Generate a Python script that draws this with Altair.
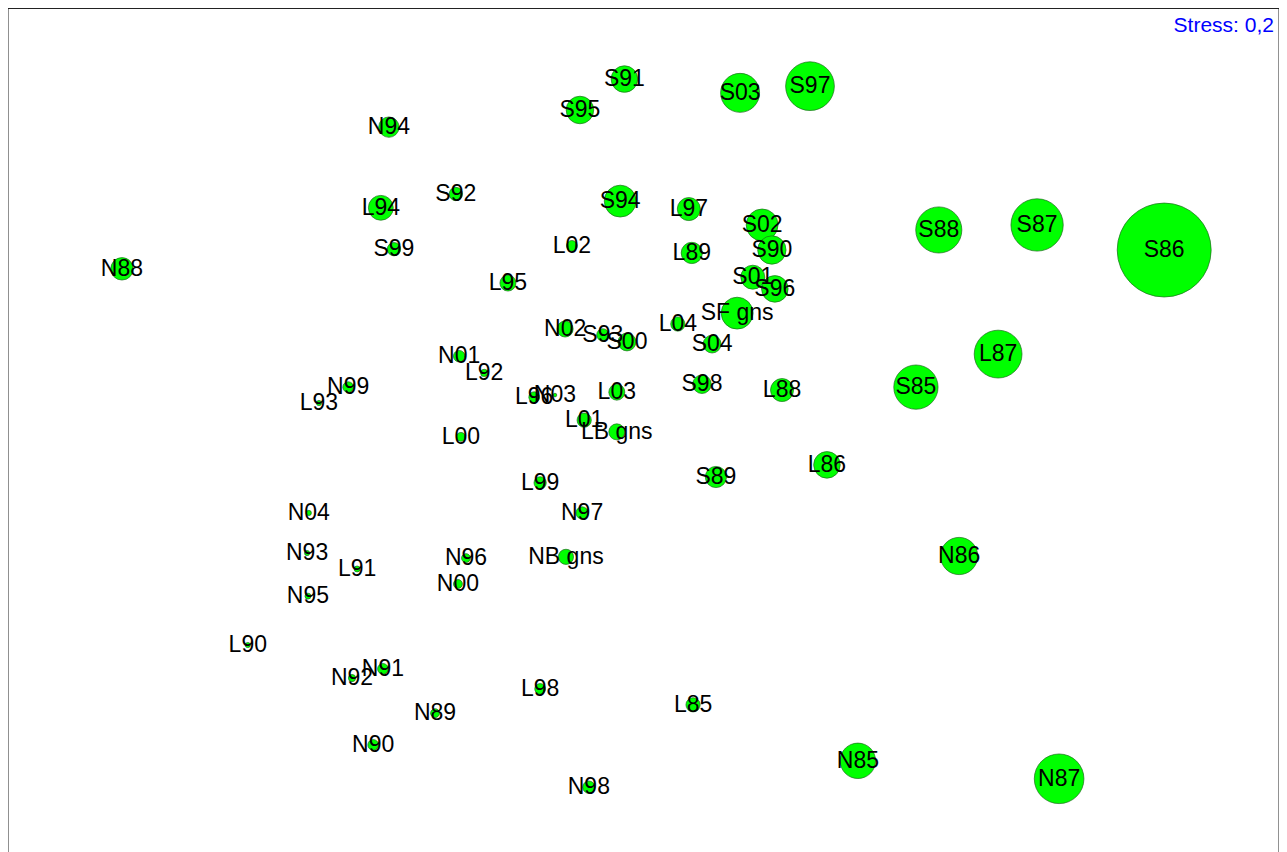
import altair as alt
import pandas as pd

# NMDS site labels, ordination scores and relative abundance (bubble size)
labels = ["S91", "S95", "S03", "S97", "N94", "S92", "L94", "S94", "L97", "S02",
          "S88", "S87", "S86", "L02", "L89", "S90", "S99", "N88", "L95", "S01",
          "S96", "SF gns", "L04", "N02", "S93", "S00", "S04", "N01", "L92", "L87",
          "N99", "L93", "L96", "N03", "L03", "S98", "L88", "S85", "L01", "LB gns",
          "L00", "L99", "S89", "L86", "N04", "N97", "N93", "L91", "N96", "NB gns",
          "N00", "N95", "N86", "L90", "N91", "N92", "L98", "N89", "L85", "N90",
          "N85", "N87", "N98"]

nmds1 = [-0.045, -0.150, 0.228, 0.393, -0.601, -0.443, -0.620, -0.055, 0.107, 0.280,
         0.697, 0.929, 1.229, -0.169, 0.114, 0.303, -0.589, -1.231, -0.320, 0.258,
         0.310, 0.221, 0.081, -0.185, -0.096, -0.039, 0.162, -0.435, -0.376, 0.837,
         -0.697, -0.766, -0.258, -0.209, -0.063, 0.138, 0.327, 0.643, -0.140, -0.063,
         -0.431, -0.244, 0.171, 0.433, -0.790, -0.145, -0.794, -0.676, -0.419, -0.183,
         -0.438, -0.792, 0.745, -0.934, -0.615, -0.688, -0.244, -0.492, 0.117, -0.638,
         0.506, 0.981, -0.129]

nmds2 = [0.830, 0.756, 0.797, 0.813, 0.715, 0.555, 0.522, 0.538, 0.519, 0.481,
         0.469, 0.481, 0.421, 0.431, 0.414, 0.421, 0.423, 0.376, 0.342, 0.356,
         0.328, 0.270, 0.244, 0.232, 0.218, 0.201, 0.196, 0.167, 0.127, 0.172,
         0.093, 0.055, 0.069, 0.074, 0.081, 0.100, 0.086, 0.093, 0.014, -0.014,
         -0.026, -0.136, -0.122, -0.093, -0.208, -0.208, -0.304, -0.342, -0.316, -0.313,
         -0.378, -0.407, -0.311, -0.524, -0.581, -0.603, -0.629, -0.687, -0.667, -0.763,
         -0.801, -0.844, -0.864]

abundance = [8.0, 8.6, 17.2, 26.9, 4.7, 2.0, 7.0, 11.5, 6.0, 11.5,
             24.1, 31.0, 100.0, 1.3, 5.1, 9.1, 2.0, 5.7, 2.9, 6.5,
             8.0, 11.5, 2.3, 2.9, 1.7, 3.6, 3.6, 1.5, 0.6, 25.9,
             1.3, 0.3, 1.3, 0.15, 2.9, 3.9, 6.0, 22.2, 2.3, 2.9,
             0.9, 1.7, 5.1, 8.0, 0.3, 1.7, 0.3, 0.4, 0.9, 2.6,
             0.9, 0.4, 15.7, 0.3, 1.3, 0.6, 1.3, 0.9, 2.3, 1.3,
             14.2, 27.9, 1.7]

stress_text = ["Stress: 0,2"]

W, H = 1271, 844
PX_PER_UNIT_Y = 418.0

df = pd.DataFrame({"label": labels, "NMDS1": nmds1, "NMDS2": nmds2, "abundance": abundance})

xs = alt.Scale(domain=[-1.5, 1.5], nice=False, zero=False)
ys = alt.Scale(domain=[1.0 - H / PX_PER_UNIT_Y, 1.0], nice=False, zero=False)

base = alt.Chart(df).encode(
    x=alt.X("NMDS1:Q", scale=xs, axis=None),
    y=alt.Y("NMDS2:Q", scale=ys, axis=None),
)

bubbles = base.mark_circle(
    color="#00ff00", opacity=1, stroke="#1c6b1c", strokeWidth=0.7
).encode(
    size=alt.Size("abundance:Q", scale=alt.Scale(domain=[0, 100], range=[0, 8825]), legend=None)
)

texts = base.mark_text(
    font="Liberation Sans", fontSize=23, color="black", align="center", baseline="middle"
).encode(text="label:N")

one = pd.DataFrame({"t": stress_text})
stress = alt.Chart(one).mark_text(
    font="Liberation Sans", fontSize=21, color="#0000ff", align="right", baseline="middle"
).encode(x=alt.value(W - 5), y=alt.value(18), text="t:N")

frame_left = alt.Chart(one).mark_rule(color="#222222", strokeWidth=1).encode(
    x=alt.value(0), y=alt.value(0), y2=alt.value(H))
frame_top = alt.Chart(one).mark_rule(color="#222222", strokeWidth=1).encode(
    x=alt.value(0), x2=alt.value(W), y=alt.value(0.5))
frame_right = alt.Chart(one).mark_rule(color="#222222", strokeWidth=1).encode(
    x=alt.value(W), y=alt.value(0), y2=alt.value(H))

chart = alt.layer(bubbles, texts, stress, frame_left, frame_top, frame_right).properties(
    width=W, height=H, background="white",
    padding={"left": 0, "top": 0, "right": 0, "bottom": 0},
    autosize=alt.AutoSizeParams(type="none"),
).configure_view(strokeWidth=0, strokeOpacity=0)

chart.save("out.html", embed_options={"renderer": "svg", "actions": False})
